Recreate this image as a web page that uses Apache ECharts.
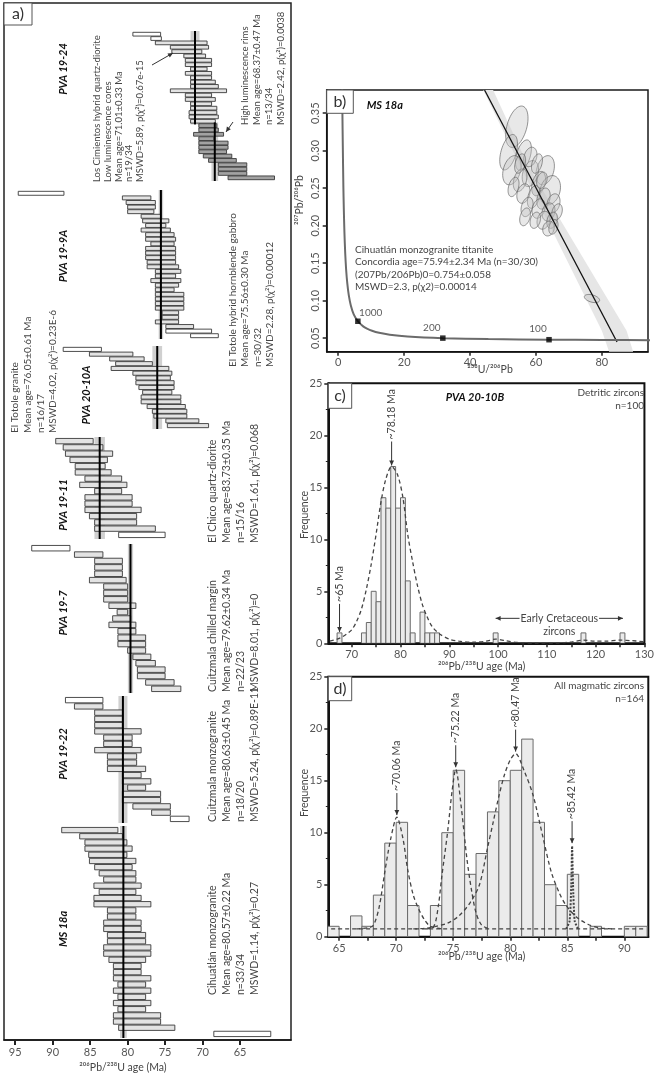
<!DOCTYPE html>
<html>
<head>
<meta charset="utf-8">
<script src="https://cdn.jsdelivr.net/npm/echarts@6.0.0/dist/echarts.min.js"></script>
<style>
html,body{margin:0;padding:0;background:#fff;}
#chart{width:657px;height:1076px;}
</style>
</head>
<body>
<div id="chart"></div>
<script>
// ======================= DATA =======================
// Panel a: 206Pb/238U spot ages as [younger, older] limits (Ma), top row first
const samples = ['PVA 19-24', 'PVA 19-9A', 'PVA 20-10A', 'PVA 19-11', 'PVA 19-7', 'PVA 19-22', 'MS 18a'];
const pva1924 = [[75.6,79.3],[75.5,76.9],[69.4,76.3],[69.2,74.3],[70.1,74.1],[69.6,72.5],[68.8,72.3],[68.8,72.3],[69.4,71.6],[68.8,72.3],[68.8,71.6],[68.3,71.6],[67.9,71.6],[66.8,74.3],[68.8,72.3],[68.3,72.3],[68.8,71.6],[68.1,71.6],[68.1,71.8],[67.9,71.8],[68.3,71.6],
  [68.1,70.5],[67.9,70.5],[67.2,71.2],[68.5,70.5],[66.6,70.5],[66.6,70.5],[66.8,70.5],[66.1,69.9],[65.5,69.2],[64.1,67.9],[64.1,67.9],[64.1,67.9],[60.4,66.6]];
const pva199a = [[88.5,94.6],[76.9,80.7],[76.3,80.2],[76.3,80.0],[76.5,80.0],[75.6,78.2],[74.5,78.0],[74.9,77.6],[74.3,78.2],[73.8,77.6],[73.6,77.6],[73.8,76.9],[73.6,77.6],[73.6,77.6],[73.6,77.6],[73.6,77.4],[73.2,77.4],[72.9,76.3],[73.6,76.3],[72.9,76.9],[73.2,76.3],[73.8,76.3],[72.5,76.3],[72.5,76.3],[72.5,76.3],[72.5,76.3],[73.2,75.4],[73.2,75.4],[73.2,76.3],[71.2,74.9],[68.8,74.9],[67.9,71.6]];
const pva2010a = [[83.5,88.6],[79.3,85.1],[77.8,82.4],[76.7,81.6],[74.5,82.2],[74.1,79.3],[74.3,78.9],[73.8,78.9],[73.8,78.5],[74.1,78.0],[72.9,78.2],[72.9,78.2],[72.3,77.4],[72.1,76.7],[72.1,76.5],[70.5,74.9],[69.2,74.7]];
const pva1911 = [[84.6,89.6],[83.3,88.6],[82.0,88.3],[82.7,87.7],[83.0,87.0],[82.2,87.0],[80.8,85.7],[80.1,86.4],[80.8,84.4],[79.4,85.7],[79.4,85.7],[78.2,85.7],[78.8,85.1],[78.8,84.4],[76.3,84.4],[75.0,81.2]];
const pva197 = [[87.7,92.8],[83.3,87.1],[80.7,84.4],[80.7,84.4],[80.7,84.4],[80.2,85.1],[80.0,83.2],[80.0,83.2],[80.0,83.2],[78.9,82.5],[80.0,81.4],[79.6,82.0],[78.9,82.5],[78.9,81.3],[77.6,81.3],[77.6,81.3],[77.6,80.0],[76.9,79.3],[76.3,78.9],[75.0,78.7],[75.0,78.7],[73.8,77.6],[72.9,76.8]];
const pva1922 = [[83.3,88.3],[83.3,87.1],[80.7,84.4],[80.7,84.4],[80.7,84.4],[78.2,84.4],[79.4,83.2],[79.4,83.2],[78.2,84.4],[78.8,82.7],[78.8,82.7],[77.6,82.7],[78.2,80.7],[76.9,80.7],[77.6,80.0],[75.6,80.7],[75.6,80.7],[74.3,79.3],[74.3,76.8],[71.8,74.3]];
const ms18a = [[81.3,88.8],[80.7,86.4],[80.1,85.7],[79.4,85.7],[80.1,85.2],[78.9,85.1],[79.4,84.4],[78.9,83.8],[78.9,83.2],[78.2,84.5],[78.9,83.8],[78.2,84.5],[76.9,84.5],[78.9,82.7],[78.9,82.7],[78.2,83.2],[78.2,83.2],[77.6,82.7],[77.6,82.7],[76.9,83.2],[76.9,83.2],[77.6,82.5],[78.2,81.9],[78.2,81.9],[76.9,81.9],[77.6,81.3],[76.9,81.9],[77.6,81.3],[76.9,81.9],[77.6,81.3],[75.6,81.9],[75.6,81.9],[73.7,81.2],[60.9,68.5]];
const rejectedRows = [[0,1],[0,30,31],[0],[15],[0],[0,19],[33]];
const highLumFirstRow1924 = 21;
const meanAges = [[71.01,68.37],[75.56],[76.05],[83.73],[79.62],[80.63],[80.57]];
const meanBands = [[0.6,0.45],[0.3],[0.65],[0.7],[0.35],[0.6],[0.45]];
const meanRowSpans = [[[0,20],[21,33]],[[0,31]],[[0,16]],[[0,15]],[[0,22]],[[0,19]],[[0,33]]];
const aAgeTicks = [95,90,85,80,75,70,65];

// Panel b: Tera-Wasserburg plot (238U/206Pb, 207Pb/206Pb)
const ellipses = [ // [x, y, half-width x, half-height y]
  [54.2,0.332,3.0,0.0285],[51.7,0.298,2.3,0.0244],[56.2,0.294,2.1,0.0211],[52.7,0.274,2.6,0.020],
  [62.8,0.274,2.6,0.020],[58.3,0.2696,2.3,0.0178],[55.2,0.2607,1.9,0.0156],[60.8,0.2562,1.9,0.0167],
  [64.3,0.2473,3.0,0.020],[56.2,0.2429,1.9,0.0133],[59.3,0.2384,1.7,0.0156],[62.3,0.2362,1.9,0.0144],
  [65.3,0.2296,1.9,0.0133],[57.3,0.2251,1.7,0.0133],[60.8,0.2229,1.9,0.0133],[63.8,0.2184,1.9,0.0122],
  [66.4,0.2184,1.5,0.0111],[62.3,0.2073,1.9,0.0122],[64.9,0.2073,1.5,0.0111],[63.8,0.1962,1.7,0.010],
  [58.3,0.2917,1.9,0.0133],[60.3,0.2829,1.5,0.0133],[53.2,0.2517,1.5,0.0133],[59.8,0.2073,1.5,0.0111],
  [61.8,0.2607,1.5,0.0111],[55.2,0.2829,1.5,0.0133],[56.7,0.2118,1.5,0.0122],[65.3,0.1984,1.3,0.010],
  [77.0,0.1029,2.4,0.0048]];
const concordiaCurve = [[1.16,0.425],[1.27,0.35],[1.39,0.306],[1.556,0.2525],[1.69,0.223],[1.88,0.191],[2.11,0.164],[2.39,0.142],[2.75,0.123],[3.21,0.107],[3.82,0.0936],[4.67,0.0822],[5.96,0.0726],[7.57,0.0658],[8.72,0.0628],[10.25,0.0599],[12.4,0.0572],[15.62,0.0547],[21.0,0.0523],[31.74,0.0501],[45.55,0.0488],[63.97,0.0480],[80.08,0.0476],[95.7,0.0474]];
const concordiaMarks = [[5.96,0.0726],[31.74,0.0501],[63.97,0.0480]];
const concordiaMarkAges = ['1000','200','100'];
const discordiaLine = [[44.4,0.381],[84.6,0.045]];
const discordiaBand = [[44.0,0.381],[55.2,0.28],[80.0,0.06],[82.2,0.032],[89.5,0.032],[87.5,0.06],[57.6,0.28],[47.0,0.381]];
const bXTicks = [0,20,40,60,80];
const bYTicks = [0.05,0.10,0.15,0.20,0.25,0.30,0.35];

// Panel c: detrital zircon histogram (1 Ma bins) + probability curve
const binWidth = 1;
const cBinStart = [67,72,73,74,75,76,77,78,79,80,81,82,84,85,86,87,99,117,125];
const cCounts   = [1,1,2,5,4,14,13,17,13,14,6,1,3,1,1,1,1,1,1];
const cCurve = [[65.5,0.2],[67,0.4],[68,0.6],[69,0.9],[70,1.3],[71,2.1],[72,3.3],[73,5.2],[74,7.6],[75,10.5],[76,13.6],[77,15.8],[78.18,17.0],[79.4,16.2],[80.5,14.0],[81.5,10.4],[82.5,7.8],[83.5,5.5],[84.5,3.7],[85.5,2.5],[86.5,1.6],[88,0.9],[90,0.4],[92,0.2],[95,0.1],[97.5,0.2],[99.5,0.4],[101.5,0.25],[104,0.08],[108,0.05],[112,0.05],[115,0.12],[117.5,0.3],[120,0.2],[122,0.2],[125,0.3],[127.5,0.25],[130,0.15]];
const cPeaks = [['~78.18 Ma',78.18,17.0],['~65 Ma',67.5,1.0]];
const cXLabels = [70,80,90,100,110,120,130];
const cXTicks = [70,75,80,85,90,95,100,105,110,115,120,125,130];

// Panel d: all magmatic zircons histogram + component curves
const dBinStart = [64,66,67,68,69,70,71,73,74,75,76,77,78,79,80,81,82,83,84,85,87,90,91];
const dCounts   = [1,2,1,4,9,11,3,3,10,16,6,8,12,15,16,19,11,5,3,6,1,1,1];
const dCurve70 = [[66.5,0.75],[67.5,0.85],[68,1.1],[68.5,2.8],[69,6.2],[69.5,9.3],[70.06,11.5],[70.6,9.4],[71,6.5],[71.5,4.0],[72,2.6],[72.5,1.6],[73,1.0],[74,0.75]];
const dCurve75 = [[72.6,0.75],[73.3,1.0],[73.7,3.0],[74.0,5.8],[74.5,10.0],[74.9,14.0],[75.22,16.1],[75.7,12.5],[76.2,7.5],[76.6,4.5],[77.0,2.3],[77.5,1.1],[78.2,0.75]];
const dCurve80 = [[71.5,0.75],[72.5,0.8],[73.5,1.0],[74.5,1.3],[75.5,2.0],[76.5,3.3],[77.3,5.0],[78,8.5],[78.5,11.0],[79,13.5],[79.5,15.6],[80,17.0],[80.47,17.6],[81.2,16.0],[82.0,13.6],[82.9,9.4],[83.6,6.2],[84.3,4.2],[84.9,3.0],[85.8,1.9],[86.8,1.2],[87.8,0.85],[89,0.75]];
const dCurve85 = [[84.9,0.75],[85.2,1.5],[85.35,5.0],[85.42,8.7],[85.5,5.0],[85.65,1.5],[85.95,0.75]];
const dBaseline = [[64.3,0.75],[91.7,0.75]];
const dPeaks = [['~70.06 Ma',70.06,11.6],['~75.22 Ma',75.22,16.2],['~80.47 Ma',80.47,17.7],['~85.42 Ma',85.42,8.9]];
const dXLabels = [65,70,75,80,85,90];
const dXTicks = [65,67.5,70,72.5,75,77.5,80,82.5,85,87.5,90];

// ======================= LAYOUT / STYLE =======================
const FF = "Lato, 'Open Sans', 'DejaVu Sans', sans-serif";
const TXT = '#454545';
const aGroups = [pva1924, pva199a, pva2010a, pva1911, pva197, pva1922, ms18a];
const aBox = [[32,180],[191,338],[347,428],[438,538],[545,692],[697,822],[827,1037]];
const A_MIN = 58.2, A_MAX = 96.5;
const BAR_FILL = ['#e3e3e3', '#ffffff', '#a2a2a2'];

const chart = echarts.init(document.getElementById('chart'), null, {renderer:'canvas', width:657, height:1076});

const tickLbl = {color:'#555', fontSize:11, fontFamily:FF};
const blackLine = (w) => ({show:true, onZero:false, lineStyle:{color:'#111', width:w}});

const grids = [{left:4, top:3, width:287, height:1037, show:true, borderColor:'#222', borderWidth:1.5, backgroundColor:'rgba(0,0,0,0)'}];
aBox.forEach(b => grids.push({left:4, top:b[0], width:287, height:b[1]-b[0]}));
grids.push({left:326.7, top:90, width:321.3, height:261.7, show:true, borderColor:'#1a1a1a', borderWidth:1.5, backgroundColor:'rgba(0,0,0,0)'});
grids.push({left:328.3, top:383.3, width:319, height:260, show:true, borderColor:'#111', borderWidth:2, backgroundColor:'rgba(0,0,0,0)'});
grids.push({left:328.3, top:676.7, width:320, height:260, show:true, borderColor:'#111', borderWidth:2, backgroundColor:'rgba(0,0,0,0)'});

const xAxes = [{gridIndex:0, type:'value', min:A_MIN, max:A_MAX, inverse:true,
  axisLine:blackLine(1.5),
  axisTick:{show:true, length:5, lineStyle:{color:'#222', width:2}, customValues:aAgeTicks},
  axisLabel:Object.assign({customValues:aAgeTicks, margin:7}, tickLbl), splitLine:{show:false}}];
const yAxes = [{gridIndex:0, type:'value', min:0, max:1, show:false}];
aGroups.forEach((g,i) => {
  xAxes.push({gridIndex:i+1, type:'value', min:A_MIN, max:A_MAX, inverse:true, show:false});
  yAxes.push({gridIndex:i+1, type:'category', inverse:true, show:false, data:g.map((_,k)=>k)});
});
// b
xAxes.push({gridIndex:8, type:'value', min:-3.5, max:94, axisLine:blackLine(1.5),
  axisTick:{show:true, length:4, lineStyle:{color:'#222', width:1.5}, customValues:bXTicks},
  axisLabel:Object.assign({customValues:bXTicks, margin:5}, tickLbl), splitLine:{show:false}});
yAxes.push({gridIndex:8, type:'value', min:0.032, max:0.381, axisLine:blackLine(1.5),
  axisTick:{show:true, length:4, lineStyle:{color:'#222', width:1.5}, customValues:bYTicks},
  axisLabel:Object.assign({customValues:bYTicks, rotate:90, margin:6, formatter:v=>v.toFixed(2)}, tickLbl), splitLine:{show:false}});
// c
xAxes.push({gridIndex:9, type:'value', min:65.2, max:130, axisLine:blackLine(2),
  axisTick:{show:true, length:4, lineStyle:{color:'#222', width:1.5}, customValues:cXTicks},
  axisLabel:Object.assign({customValues:cXLabels, margin:6}, tickLbl), splitLine:{show:false}});
yAxes.push({gridIndex:9, type:'value', min:0, max:25, interval:5, axisLine:blackLine(2),
  axisTick:{show:true, length:4, lineStyle:{color:'#222', width:1.5}},
  minorTick:{show:true, splitNumber:2, length:2.5, lineStyle:{color:'#222', width:1}},
  axisLabel:Object.assign({margin:6}, tickLbl), splitLine:{show:false}});
// d
xAxes.push({gridIndex:10, type:'value', min:64.05, max:92.1, axisLine:blackLine(2),
  axisTick:{show:true, length:4, lineStyle:{color:'#222', width:1.5}, customValues:dXTicks},
  axisLabel:Object.assign({customValues:dXLabels, margin:6}, tickLbl), splitLine:{show:false}});
yAxes.push({gridIndex:10, type:'value', min:0, max:25, interval:5, axisLine:blackLine(2),
  axisTick:{show:true, length:4, lineStyle:{color:'#222', width:1.5}},
  minorTick:{show:true, splitNumber:2, length:2.5, lineStyle:{color:'#222', width:1}},
  axisLabel:Object.assign({margin:6}, tickLbl), splitLine:{show:false}});

// ---------- render items ----------
function barItem(params, api){
  const lo = api.value(0), hi = api.value(1), row = api.value(2), kind = api.value(3);
  const a = api.coord([lo,row]), b = api.coord([hi,row]);
  const h = api.size([0,1])[1]*0.86;
  return {type:'rect', shape:{x:Math.min(a[0],b[0]), y:a[1]-h/2, width:Math.abs(b[0]-a[0]), height:h},
    style:{fill:BAR_FILL[kind], stroke:'#3a3a3a', lineWidth:0.9}};
}
function meanBand(params, api){
  const m = api.value(0), e = api.value(1), r0 = api.value(2), r1 = api.value(3);
  const h = api.size([0,1])[1];
  const p0 = api.coord([m+e,r0]), p1 = api.coord([m-e,r1]);
  return {type:'rect', shape:{x:Math.min(p0[0],p1[0]), y:p0[1]-h/2-1, width:Math.abs(p1[0]-p0[0]), height:p1[1]-p0[1]+h+2}, style:{fill:'#d0d0d0'}};
}
function meanLine(params, api){
  const m = api.value(0), r0 = api.value(2), r1 = api.value(3);
  const h = api.size([0,1])[1];
  const p0 = api.coord([m,r0]), p1 = api.coord([m,r1]);
  return {type:'line', shape:{x1:p0[0], y1:p0[1]-h/2-1, x2:p1[0], y2:p1[1]+h/2+1}, style:{stroke:'#000', lineWidth:2}};
}
function histItem(params, api){
  const x0 = api.value(0), n = api.value(1);
  const p0 = api.coord([x0,0]), p1 = api.coord([x0+binWidth,n]);
  return {type:'rect', shape:{x:p0[0], y:p1[1], width:p1[0]-p0[0], height:p0[1]-p1[1]},
    style:{fill:'#ebebeb', stroke:'#6a6a6a', lineWidth:1}};
}
const TILT = -16*Math.PI/180;
function ellipseItem(params, api){
  const c = api.coord([api.value(0), api.value(1)]);
  const s = api.size([api.value(2), api.value(3)]);
  const rx = s[0], ry = s[1];
  const pts = [];
  for (let i=0;i<48;i++){
    const t = i/48*2*Math.PI, u = rx*Math.cos(t), v = ry*Math.sin(t);
    pts.push([c[0]+u*Math.cos(TILT)+v*Math.sin(TILT), c[1]-u*Math.sin(TILT)+v*Math.cos(TILT)]);
  }
  return {type:'polygon', shape:{points:pts}, style:{fill:'rgba(195,195,195,0.38)', stroke:'rgba(100,100,100,0.85)', lineWidth:0.8}};
}
function bandItem(params, api){
  return {type:'polygon', shape:{points:discordiaBand.map(p=>api.coord(p))}, style:{fill:'#e6e6e6'}};
}

// ---------- series ----------
const series = [];
aGroups.forEach((g,i) => {
  const gi = i+1;
  const rej = rejectedRows[i];
  const meanData = meanAges[i].map((m,j)=>[m, meanBands[i][j], meanRowSpans[i][j][0], meanRowSpans[i][j][1]]);
  series.push({type:'custom', xAxisIndex:gi, yAxisIndex:gi, z:1, silent:true, renderItem:meanBand, data:meanData, encode:{x:0, y:2}});
  series.push({type:'custom', xAxisIndex:gi, yAxisIndex:gi, z:2, silent:true, renderItem:barItem,
    data:g.map((r,k)=>[r[0], r[1], k, rej.includes(k) ? 1 : ((i===0 && k>=highLumFirstRow1924) ? 2 : 0)]), encode:{x:[0,1], y:2}});
  series.push({type:'custom', xAxisIndex:gi, yAxisIndex:gi, z:3, silent:true, renderItem:meanLine, data:meanData, encode:{x:0, y:2}});
});
// b
series.push({type:'custom', xAxisIndex:8, yAxisIndex:8, z:1, silent:true, renderItem:bandItem, data:[[60,0.2]], encode:{x:0,y:1}});
series.push({type:'custom', xAxisIndex:8, yAxisIndex:8, z:2, silent:true, renderItem:ellipseItem, data:ellipses, encode:{x:0,y:1}});
series.push({type:'line', xAxisIndex:8, yAxisIndex:8, z:3, silent:true, data:discordiaLine, showSymbol:false, lineStyle:{color:'#111', width:1.3}});
series.push({type:'line', xAxisIndex:8, yAxisIndex:8, z:3, silent:true, data:concordiaCurve, showSymbol:false, smooth:0.25, clip:true, lineStyle:{color:'#6b6b6b', width:2}});
series.push({type:'scatter', xAxisIndex:8, yAxisIndex:8, z:4, silent:true, symbol:'rect', symbolSize:5.5, itemStyle:{color:'#000'},
  data:concordiaMarks.map((p,k)=>({value:p, label:{show:true, formatter:concordiaMarkAges[k], color:'#333', fontSize:10, fontFamily:FF,
    position: k===0 ? [4,-11] : [-17,-13]}}))});
// c
series.push({type:'custom', xAxisIndex:9, yAxisIndex:9, z:2, silent:true, clip:true, renderItem:histItem, data:cBinStart.map((b,k)=>[b,cCounts[k]]), encode:{x:0,y:1}});
series.push({type:'line', xAxisIndex:9, yAxisIndex:9, z:3, silent:true, data:cCurve, showSymbol:false, smooth:0.3, lineStyle:{color:'#444', width:1.3, type:[4,3]}});
// d
series.push({type:'custom', xAxisIndex:10, yAxisIndex:10, z:2, silent:true, clip:true, renderItem:histItem, data:dBinStart.map((b,k)=>[b,dCounts[k]]), encode:{x:0,y:1}});
[dCurve70, dCurve75, dCurve80].forEach(cv => series.push({type:'line', xAxisIndex:10, yAxisIndex:10, z:3, silent:true, data:cv, showSymbol:false, smooth:0.3, lineStyle:{color:'#444', width:1.3, type:[4,3]}}));
series.push({type:'line', xAxisIndex:10, yAxisIndex:10, z:3, silent:true, data:dCurve85, showSymbol:false, smooth:0.2, lineStyle:{color:'#444', width:2, type:[2,1.5]}});
series.push({type:'line', xAxisIndex:10, yAxisIndex:10, z:3, silent:true, data:dBaseline, showSymbol:false, lineStyle:{color:'#444', width:1.3, type:[4,3]}});

chart.setOption({animation:false, backgroundColor:'#fff', grid:grids, xAxis:xAxes, yAxis:yAxes, series:series});

// ======================= ANNOTATIONS =======================
function vText(x, y, text, o){ return {type:'text', x, y, rotation:Math.PI/2, z:50, style:Object.assign({text, fill:TXT, fontSize:10, fontFamily:FF, align:'left', verticalAlign:'top'}, o||{})}; }
function hText(x, y, text, o){ return {type:'text', x, y, z:50, style:Object.assign({text, fill:TXT, fontSize:10, fontFamily:FF, align:'left', verticalAlign:'middle'}, o||{})}; }
function arrow(x1, y1, x2, y2, color, both){
  const c = color || '#333';
  const head = (xa, ya, xb, yb) => { // head at (xb,yb)
    const ang = Math.atan2(yb-ya, xb-xa), L = 5, W = 2.4;
    const bx = xb-L*Math.cos(ang), by = yb-L*Math.sin(ang);
    return {type:'polygon', z:50, shape:{points:[[xb,yb],[bx+W*Math.sin(ang),by-W*Math.cos(ang)],[bx-W*Math.sin(ang),by+W*Math.cos(ang)]]}, style:{fill:c}};
  };
  const els = [{type:'line', z:49, shape:{x1,y1,x2,y2}, style:{stroke:c, lineWidth:1}}, head(x1,y1,x2,y2)];
  if (both) els.push(head(x2,y2,x1,y1));
  return els;
}
function labelBox(x, y, w, h, t){
  return [{type:'rect', z:60, shape:{x, y, width:w, height:h}, style:{fill:'#fff', stroke:'#555', lineWidth:1}},
          {type:'text', z:61, x:x+w/2, y:y+h/2, style:{text:t, fill:'#333', fontSize:16, fontFamily:FF, align:'center', verticalAlign:'middle'}}];
}
const els = [];
els.push(...labelBox(4,3,28,22,'a)'), ...labelBox(326.7,90,26.6,23.3,'b)'), ...labelBox(328.3,383.3,23.4,25,'c)'), ...labelBox(328.3,676.7,23.4,24,'d)'));

// panel a titles
const aTitlePos = [[63,69],[63,256],[86,395],[63,505],[63,613],[63,754],[63,929]];
samples.forEach((s,i) => els.push(vText(aTitlePos[i][0], aTitlePos[i][1], s, {fill:'#111', fontSize:11, fontWeight:'bold', fontStyle:'italic', align:'center', verticalAlign:'middle'})));
// panel a descriptions
const aDesc = [
  [91.6,182,10.8,9.5,['Los Cimientos hybrid quartz-diorite','Low luminescence cores','Mean age=71.01±0.33 Ma','n=19/34','MSWD=5.89, p(χ²)=0.67e-15']],
  [239,125,12,9.5,['High luminescence rims','Mean age=68.37±0.47 Ma','n=13/34','MSWD=2.42, p(χ²)=0.0038']],
  [226.7,367,12.3,10,['El Totole hybrid hornblende gabbro','Mean age=75.56±0.30 Ma','n=30/32','MSWD=2.28, p(χ²)=0.00012']],
  [8.6,433,12.7,10,['El Totole granite','Mean age=76.05±0.61 Ma','n=16/17','MSWD=4.02, p(χ²)=0.23E-6']],
  [206,543,14,10.5,['El Chico quartz-diorite','Mean age=83.73±0.35 Ma','n=15/16','MSWD=1.61, p(χ²)=0.068']],
  [206,692,14,10.5,['Cuitzmala chilled margin','Mean age=79.62±0.34 Ma','n=22/23','MSWD=8.01, p(χ²)=0']],
  [206,822,14,10.5,['Cuitzmala monzogranite','Mean age=80.63±0.45 Ma','n=18/20','MSWD=5.24, p(χ²)=0.89E-11']],
  [206,995,14,10.5,['Cihuatlán monzogranite','Mean age=80.57±0.22 Ma','n=33/34','MSWD=1.14, p(χ²)=0.27']]
];
aDesc.forEach(d => els.push(vText(d[0], d[1], d[4].join('\n'), {lineHeight:d[2], fontSize:d[3]})));
els.push(...arrow(152,65,173,53,'#333'), ...arrow(233,122,226,132,'#333'));
els.push(hText(123,1068,'²⁰⁶Pb/²³⁸U age (Ma)', {align:'center', fontSize:10.5}));

// panel b texts
els.push(hText(366.7,105,'MS 18a', {fill:'#111', fontSize:11, fontWeight:'bold', fontStyle:'italic'}));
els.push(hText(355,243,['Cihuatlán monzogranite titanite','Concordia age=75.94±2.34 Ma (n=30/30)','(207Pb/206Pb)0=0.754±0.058','MSWD=2.3, p(χ2)=0.00014'].join('\n'), {verticalAlign:'top', lineHeight:12.6, fontSize:10}));
els.push(hText(490,370,'²³⁸U/²⁰⁶Pb', {align:'center', fontSize:10.5}));
els.push(vText(300,200,'²⁰⁷Pb/²⁰⁶Pb', {align:'center', verticalAlign:'middle', fontSize:10.5}));

// panel c texts
els.push(hText(475,397,'PVA 20-10B', {fill:'#111', fontSize:11, fontWeight:'bold', fontStyle:'italic', align:'center'}));
els.push(hText(644,386,'Detritic zircons\nn=100', {align:'right', verticalAlign:'top', lineHeight:13}));
els.push(hText(481.7,667,'²⁰⁶Pb/²³⁸U age (Ma)', {align:'center', fontSize:10.5}));
els.push(vText(305,515,'Frequence', {align:'center', verticalAlign:'middle', fontSize:10.5}));
cPeaks.forEach(p => {
  const t = chart.convertToPixel({gridIndex:9}, [p[1], p[2]]);
  const tip = t[1]-1, tail = tip-(p[0]==='~65 Ma'?28:24);
  els.push(...arrow(t[0], tail, t[0], tip, '#333'));
  els.push(vText(t[0], tail-2, p[0], {verticalAlign:'middle', fontSize:10.5}));
});
{
  const a1 = chart.convertToPixel({gridIndex:9}, [99.5, 2.4]);
  const a2 = chart.convertToPixel({gridIndex:9}, [125.6, 2.4]);
  els.push(...arrow(a1[0], a1[1], a2[0], a2[1], '#333', true));
  els.push(hText((a1[0]+a2[0])/2, a1[1], 'Early Cretaceous', {align:'center', backgroundColor:'#fff', padding:[0,1], fontSize:10.5}));
  els.push(hText((a1[0]+a2[0])/2, a1[1]+13, 'zircons', {align:'center', fontSize:10.5}));
}
// panel d texts
els.push(hText(644,679,'All magmatic zircons\nn=164', {align:'right', verticalAlign:'top', lineHeight:13}));
els.push(hText(481.7,957,'²⁰⁶Pb/²³⁸U age (Ma)', {align:'center', fontSize:10.5}));
els.push(vText(305,793,'Frequence', {align:'center', verticalAlign:'middle', fontSize:10.5}));
dPeaks.forEach(p => {
  const t = chart.convertToPixel({gridIndex:10}, [p[1], p[2]]);
  const tip = t[1]-1, tail = tip-22;
  els.push(...arrow(t[0], tail, t[0], tip, '#333'));
  els.push(vText(t[0], tail-2, p[0], {verticalAlign:'middle', fontSize:10.5}));
});

chart.setOption({graphic:{elements:els}});
</script>
</body>
</html>
